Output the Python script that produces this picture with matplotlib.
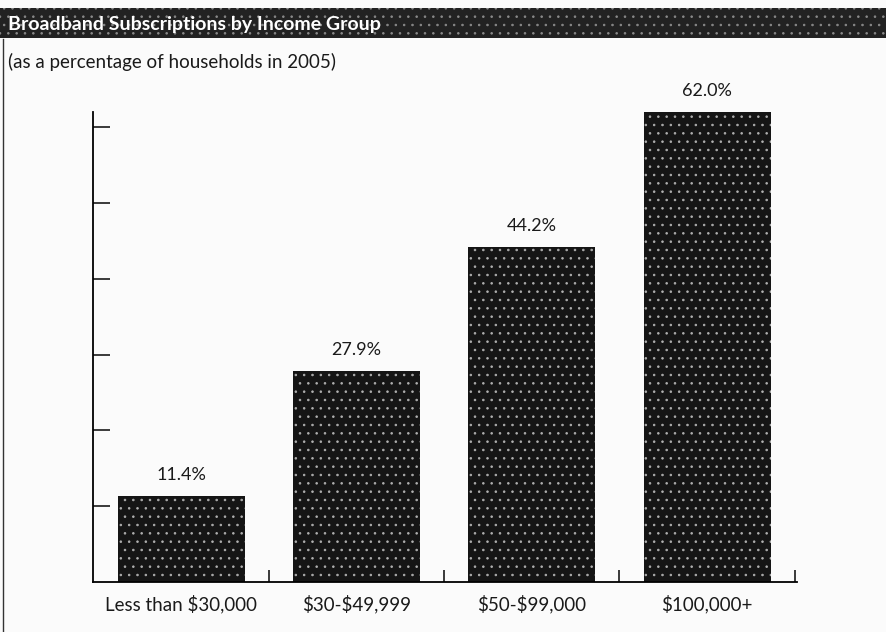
"""Broadband subscriptions by income group, 2005."""

import matplotlib
matplotlib.use("Agg")
import matplotlib.pyplot as plt
from matplotlib.patches import Rectangle
from matplotlib.lines import Line2D

plt.rcParams["font.family"] = ["Lato", "DejaVu Sans"]
plt.rcParams["hatch.linewidth"] = 0.6
plt.rcParams["text.parse_math"] = False

# data
groups = ["Less than $30,000", "$30-$49,999", "$50-$99,000", "$100,000+"]
shares = [11.4, 27.9, 44.2, 62.0]
value_labels = ["11.4%", "27.9%", "44.2%", "62.0%"]

fig = plt.figure(figsize=(8.87, 6.32), dpi=100)
fig.patch.set_facecolor("#fbfbfb")

# dark title band with speckle
band = Rectangle((0, 0.940), 1, 0.048, transform=fig.transFigure,
                 facecolor="#222222", edgecolor="#8a8a8a", hatch="..",
                 linewidth=0, zorder=0)
fig.patches.append(band)
fig.text(0.009, 0.962, "Broadband Subscriptions by Income Group",
         color="white", fontsize=14, fontweight="bold", va="center", ha="left")
fig.text(0.009, 0.902, "(as a percentage of households in 2005)",
         color="#1a1a1a", fontsize=13.5, va="center", ha="left")
fig.add_artist(Line2D([0.003, 0.003], [0.0, 0.938], transform=fig.transFigure,
                      color="#333333", linewidth=1))

ax = fig.add_axes([0.1048, 0.0791, 0.7937, 0.7437])
ax.set_facecolor("none")

x = range(len(groups))
bars = ax.bar(x, shares, width=0.725, color="#151515", edgecolor="#b0b0b0",
              hatch="..", linewidth=0, clip_on=False, zorder=2)
for xi, v, lab in zip(x, shares, value_labels):
    ax.annotate(lab, (xi, v), xytext=(0, 9), textcoords="offset points",
                ha="center", va="bottom", fontsize=13, color="#1a1a1a",
                annotation_clip=False)

ax.set_xlim(-0.505, 3.513)
ax.set_ylim(0, 62.0)

for side in ["top", "right"]:
    ax.spines[side].set_visible(False)
ax.spines["left"].set_linewidth(1.3)
ax.spines["bottom"].set_linewidth(1.3)

ax.set_yticks([10, 20, 30, 40, 50, 60])
ax.set_yticklabels([])
ax.tick_params(axis="y", direction="in", length=12, width=1.2, color="#1a1a1a")

ax.set_xticks(list(x))
ax.set_xticklabels(groups, fontsize=13.5, color="#1a1a1a")
ax.tick_params(axis="x", which="major", length=0, pad=9)
ax.set_xticks([0.5, 1.5, 2.5, 3.5], minor=True)
ax.tick_params(axis="x", which="minor", direction="in", length=9, width=1.2,
               color="#1a1a1a")

fig.savefig("out.png", dpi=100, facecolor=fig.get_facecolor())
